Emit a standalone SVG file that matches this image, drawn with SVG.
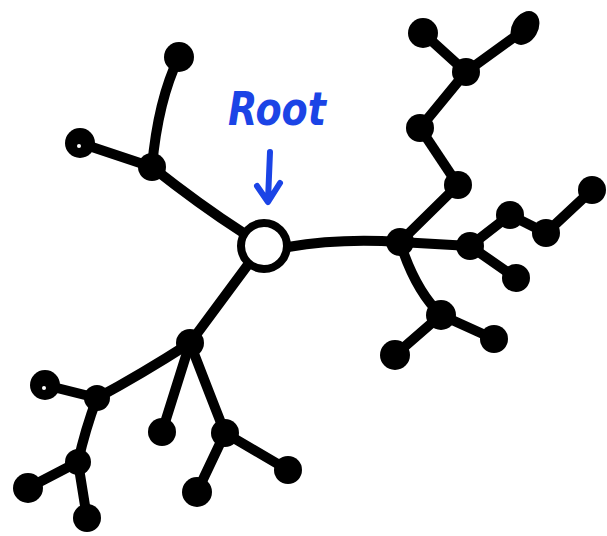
<svg xmlns="http://www.w3.org/2000/svg" width="607" height="536" viewBox="0 0 607 536">
<style>
.e{fill:none;stroke:#000;stroke-width:10;stroke-linecap:round;stroke-linejoin:round}
.n{fill:#000}
.lbl{fill:#1b44e6;font-family:"DejaVu Sans",sans-serif;font-style:italic;font-weight:bold}
.ar{fill:none;stroke:#1b44e6;stroke-width:6;stroke-linecap:round;stroke-linejoin:round}
</style>
<rect width="607" height="536" fill="#fff"/>
<g id="connectors">
<path class="e" d="M242 232 Q200 205 152 167"/>
<path class="e" d="M152 167 Q158 100 179 57"/>
<path class="e" d="M152 167 L80 143"/>
<path class="e" d="M247 266 L190 343"/>
<path class="e" d="M190 343 Q140 375 97 398"/>
<path class="e" d="M97 398 L45 385"/>
<path class="e" d="M97 398 Q85 430 78 462"/>
<path class="e" d="M78 462 L28 488"/>
<path class="e" d="M78 462 L87 518"/>
<path class="e" d="M190 343 L162 432"/>
<path class="e" d="M190 343 Q210 395 225 433"/>
<path class="e" d="M225 433 L197 492"/>
<path class="e" d="M225 433 L288 470"/>
<path class="e" d="M288 247 Q340 238 400 242"/>
<path class="e" d="M400 242 L458 185"/>
<path class="e" d="M458 185 L420 128"/>
<path class="e" d="M420 128 L466 72"/>
<path class="e" d="M466 72 L423 33"/>
<path class="e" d="M466 72 L524 30"/>
<path class="e" d="M400 242 L470 246"/>
<path class="e" d="M470 246 L510 215"/>
<path class="e" d="M510 215 L546 233"/>
<path class="e" d="M546 233 L592 190"/>
<path class="e" d="M470 246 L516 278"/>
<path class="e" d="M400 242 Q415 290 441 315"/>
<path class="e" d="M441 315 L395 355"/>
<path class="e" d="M441 315 L494 339"/>
</g>
<g id="root"><circle cx="264" cy="246" r="23" fill="#fff" stroke="#000" stroke-width="8"/></g>
<g id="rootLabel">
<text class="lbl" x="228" y="125" font-size="46" textLength="98" lengthAdjust="spacingAndGlyphs">Root</text>
<path class="ar" d="M270 152 L268 200 M257 186 L268 202 L280 183"/>
</g>
<g id="nA"><circle class="n" cx="152" cy="167" r="14"/></g>
<g id="nA1"><circle class="n" cx="179" cy="57" r="15"/></g>
<g id="nA2"><circle class="n" cx="80" cy="143" r="15"/><circle cx="79" cy="146" r="2" fill="#fff"/></g>
<g id="nB"><circle class="n" cx="190" cy="343" r="14"/></g>
<g id="nC"><circle class="n" cx="97" cy="398" r="13"/></g>
<g id="nC1"><circle class="n" cx="45" cy="385" r="15"/><circle cx="44" cy="388" r="2" fill="#fff"/></g>
<g id="nD"><circle class="n" cx="78" cy="462" r="13"/></g>
<g id="nD1"><circle class="n" cx="28" cy="488" r="15"/></g>
<g id="nD2"><circle class="n" cx="87" cy="518" r="14"/></g>
<g id="nB1"><circle class="n" cx="162" cy="432" r="14"/></g>
<g id="nE"><circle class="n" cx="225" cy="433" r="14"/></g>
<g id="nE1"><circle class="n" cx="197" cy="492" r="15"/></g>
<g id="nE2"><circle class="n" cx="288" cy="470" r="14"/></g>
<g id="nF"><circle class="n" cx="400" cy="242" r="14"/></g>
<g id="nG"><circle class="n" cx="458" cy="185" r="14"/></g>
<g id="nH"><circle class="n" cx="420" cy="128" r="14"/></g>
<g id="nI"><circle class="n" cx="466" cy="72" r="14"/></g>
<g id="nI1"><circle class="n" cx="423" cy="33" r="15"/></g>
<g id="nI2"><ellipse class="n" cx="525" cy="28" rx="13" ry="18" transform="rotate(30 525 28)"/></g>
<g id="nJ"><circle class="n" cx="470" cy="246" r="14"/></g>
<g id="nK"><circle class="n" cx="510" cy="215" r="14"/></g>
<g id="nL"><circle class="n" cx="546" cy="233" r="14"/></g>
<g id="nL1"><circle class="n" cx="592" cy="190" r="14"/></g>
<g id="nJ1"><circle class="n" cx="516" cy="278" r="14"/></g>
<g id="nM"><circle class="n" cx="441" cy="315" r="15"/></g>
<g id="nM1"><circle class="n" cx="395" cy="355" r="15"/></g>
<g id="nM2"><circle class="n" cx="494" cy="339" r="14"/></g>
</svg>
